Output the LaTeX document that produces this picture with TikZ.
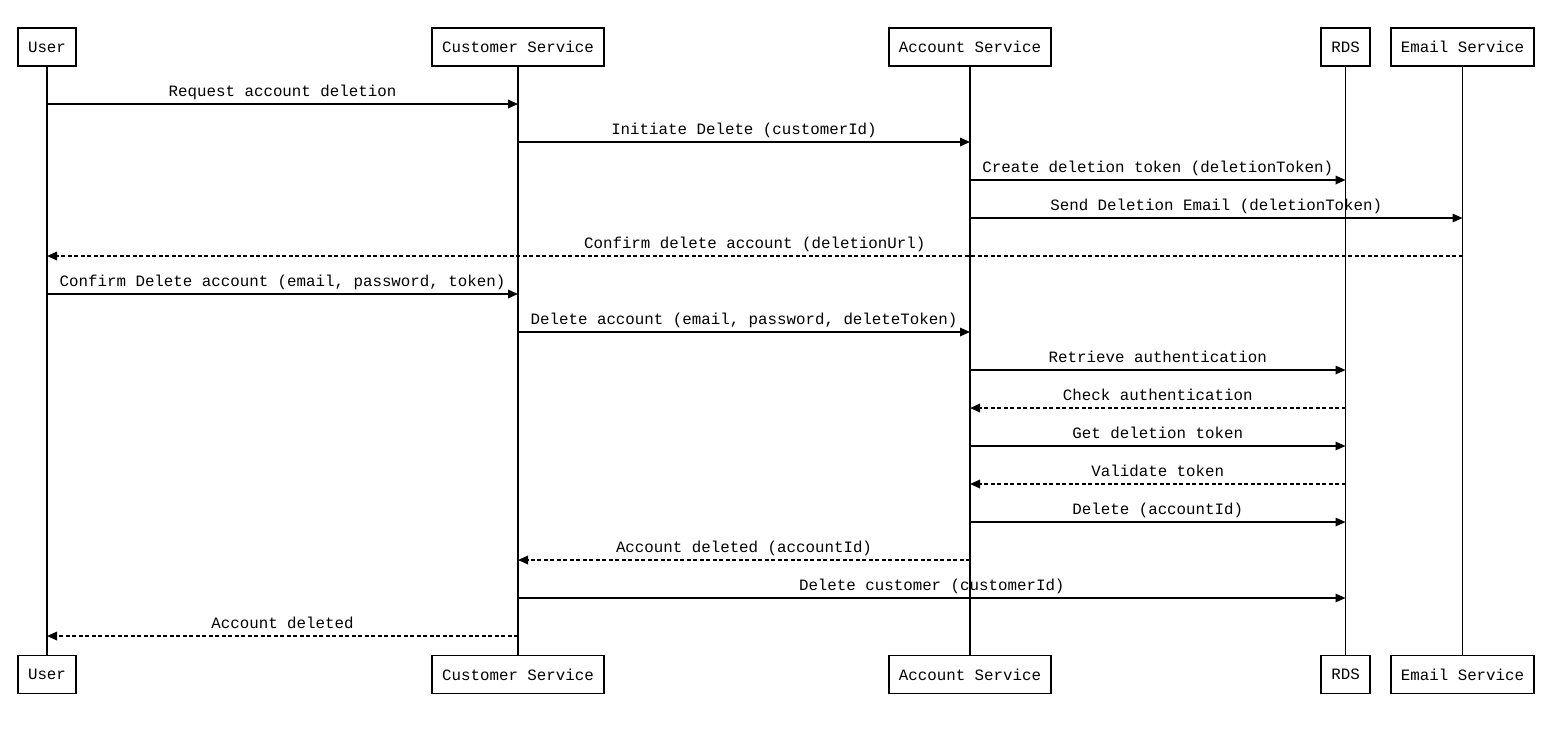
\documentclass[tikz,border=0pt]{standalone}
\usepackage{fontspec}
\setmonofont{Liberation Mono}
\usetikzlibrary{arrows.meta}
\tikzset{
  actor/.style={draw, line width=1.8pt, minimum height=38pt, inner xsep=10pt, inner ysep=0pt, font=\ttfamily\fontsize{15.8}{18}\selectfont, fill=white},
  life/.style={line width=1.5pt},
  msg/.style={line width=1.7pt, -{Triangle[length=10pt,width=8.5pt]}},
  reply/.style={msg, dash pattern=on 4pt off 2.5pt},
  lbl/.style={anchor=base, yshift=8pt, inner sep=0pt, font=\ttfamily\fontsize{15.8}{18}\selectfont}
}
\newcommand{\mymsg}[5]{\draw[#1] (#2T.south |- 0,#4) -- node[lbl]{#5} (#3T.south |- 0,#4);}
\begin{document}
\begin{tikzpicture}[x=1pt,y=-1pt]
\useasboundingbox (0,0) rectangle (1565,729);
% top actors
\node[actor] (uT) at (47,47) {User};
\node[actor] (cT) at (518,47) {Customer Service};
\node[actor] (aT) at (970,47) {Account Service};
\node[actor] (rT) at (1345.5,47) {RDS};
\node[actor] (eT) at (1462.5,47) {Email Service};
% bottom actors
\node[actor] (uB) at (47,674.5) {User};
\node[actor] (cB) at (518,674.5) {Customer Service};
\node[actor] (aB) at (970,674.5) {Account Service};
\node[actor] (rB) at (1345.5,674.5) {RDS};
\node[actor] (eB) at (1462.5,674.5) {Email Service};
% lifelines
\foreach \n in {u,c,a,r,e} { \draw[life] (\n T.south) -- (\n B.north); }
% messages
\mymsg{msg}{u}{c}{104}{Request account deletion}
\mymsg{msg}{c}{a}{142}{Initiate Delete (customerId)}
\mymsg{msg}{a}{r}{180}{Create deletion token (deletionToken)}
\mymsg{msg}{a}{e}{218}{Send Deletion Email (deletionToken)}
\mymsg{reply}{e}{u}{256}{Confirm delete account (deletionUrl)}
\mymsg{msg}{u}{c}{294}{Confirm Delete account (email, password, token)}
\mymsg{msg}{c}{a}{332}{Delete account (email, password, deleteToken)}
\mymsg{msg}{a}{r}{370}{Retrieve authentication}
\mymsg{reply}{r}{a}{408}{Check authentication}
\mymsg{msg}{a}{r}{446}{Get deletion token}
\mymsg{reply}{r}{a}{484}{Validate token}
\mymsg{msg}{a}{r}{522}{Delete (accountId)}
\mymsg{reply}{a}{c}{560}{Account deleted (accountId)}
\mymsg{msg}{c}{r}{598}{Delete customer (customerId)}
\mymsg{reply}{c}{u}{636}{Account deleted}
\end{tikzpicture}
\end{document}
